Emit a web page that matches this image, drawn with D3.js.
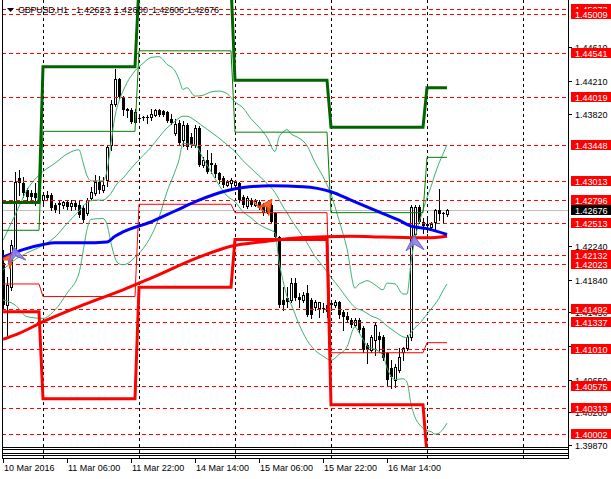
<!DOCTYPE html>
<html><head><meta charset="utf-8">
<script src="https://cdnjs.cloudflare.com/ajax/libs/d3/7.8.5/d3.min.js"></script>
<style>
body{margin:0;background:#fff}
svg{display:block}
text{font-family:"Liberation Sans",Arial,sans-serif;font-size:9px}
</style>
</head><body>
<svg id="c" width="611" height="479"></svg>
<script>
// ---------------- DATA ----------------
const symbol = "GBPUSD,H1";
const lastQuote = [1.42623, 1.42680, 1.42606, 1.42676]; // O H L C of last bar

const opens = [1.4204,1.4154,1.4175,1.4220,1.4305,1.4299,1.4291,1.4288,1.4288,1.4282,
1.4279,1.4285,1.4285,1.4273,1.4274,1.4273,1.4277,1.4272,1.4276,1.4273,
1.4270,1.4264,1.4282,1.4288,1.4301,1.4291,1.4303,1.4345,1.4394,1.4423,
1.4401,1.4388,1.4387,1.4372,1.4377,1.4378,1.4378,1.4378,1.4381,1.4387,
1.4385,1.4384,1.4376,1.4359,1.4371,1.4351,1.4369,1.4354,1.4345,1.4365,
1.4321,1.4327,1.4323,1.4321,1.4311,1.4305,1.4297,1.4299,1.4297,1.4299,
1.4283,1.4272,1.4279,1.4273,1.4277,1.4273,1.4271,1.4273,1.4264,1.4235,
1.4160,1.4162,1.4160,1.4180,1.4164,1.4160,1.4168,1.4160,1.4152,1.4150,
1.4150,1.4154,1.4156,1.4154,1.4158,1.4145,1.4141,1.4136,1.4130,1.4136,
1.4127,1.4106,1.4100,1.4112,1.4117,1.4116,1.4097,1.4079,1.4065,1.4077,
1.4098,1.4103,1.4116,1.4238,1.4271,1.4253,1.4250,1.4247,1.4253,1.4267,
1.4264,1.42623];
const highs = [1.4220,1.4187,1.4232,1.4313,1.4315,1.4307,1.4294,1.4291,1.4299,1.4294,
1.4289,1.4290,1.4288,1.4276,1.4279,1.4278,1.4279,1.4279,1.4278,1.4279,
1.4273,1.4282,1.4295,1.4309,1.4308,1.4307,1.4345,1.4398,1.4435,1.4425,
1.4403,1.4389,1.4389,1.4388,1.4379,1.4379,1.4381,1.4388,1.4388,1.4388,
1.4387,1.4385,1.4382,1.4376,1.4375,1.4373,1.4371,1.4359,1.4369,1.4367,
1.4330,1.4339,1.4335,1.4323,1.4313,1.4308,1.4303,1.4305,1.4303,1.4301,
1.4285,1.4284,1.4282,1.4280,1.4279,1.4276,1.4272,1.4276,1.4265,1.4236,
1.4175,1.4175,1.4186,1.4186,1.4168,1.4170,1.4178,1.4162,1.4160,1.4158,
1.4156,1.4156,1.4160,1.4160,1.4159,1.4148,1.4145,1.4139,1.4139,1.4139,
1.4129,1.4109,1.4118,1.4134,1.4122,1.4118,1.4098,1.4088,1.4083,1.4103,
1.4104,1.4118,1.4273,1.4273,1.4273,1.4258,1.4258,1.4253,1.4268,1.4292,
1.4265,1.42680];
const lows = [1.4150,1.4118,1.4172,1.4214,1.4285,1.4283,1.4279,1.4279,1.4273,1.4279,
1.4276,1.4279,1.4267,1.4265,1.4264,1.4270,1.4268,1.4267,1.4268,1.4259,
1.4253,1.4261,1.4279,1.4285,1.4288,1.4289,1.4296,1.4339,1.4391,1.4400,
1.4381,1.4378,1.4371,1.4371,1.4372,1.4375,1.4371,1.4375,1.4379,1.4379,
1.4379,1.4372,1.4370,1.4357,1.4345,1.4344,1.4340,1.4342,1.4342,1.4320,
1.4319,1.4311,1.4311,1.4307,1.4299,1.4295,1.4296,1.4295,1.4296,1.4277,
1.4271,1.4270,1.4272,1.4272,1.4268,1.4261,1.4264,1.4252,1.4234,1.4152,
1.4148,1.4152,1.4158,1.4160,1.4152,1.4158,1.4141,1.4139,1.4148,1.4140,
1.4146,1.4140,1.4148,1.4152,1.4139,1.4124,1.4134,1.4128,1.4129,1.4122,
1.4098,1.4085,1.4098,1.4094,1.4098,1.4088,1.4059,1.4055,1.4056,1.4074,
1.4088,1.4100,1.4112,1.4235,1.4252,1.4240,1.4241,1.4246,1.4243,1.4255,
1.4253,1.42606];
const closes = [1.4154,1.4178,1.4226,1.4301,1.4299,1.4288,1.4283,1.4283,1.4282,1.4289,
1.4285,1.4282,1.4270,1.4267,1.4276,1.4277,1.4271,1.4276,1.4271,1.4261,
1.4255,1.4279,1.4289,1.4301,1.4291,1.4297,1.4342,1.4394,1.4423,1.4402,
1.4387,1.4385,1.4372,1.4384,1.4376,1.4377,1.4377,1.4382,1.4387,1.4381,
1.4381,1.4373,1.4371,1.4370,1.4347,1.4369,1.4342,1.4345,1.4365,1.4321,
1.4327,1.4313,1.4321,1.4310,1.4303,1.4297,1.4301,1.4303,1.4301,1.4279,
1.4273,1.4282,1.4273,1.4278,1.4270,1.4264,1.4265,1.4253,1.4235,1.4154,
1.4154,1.4158,1.4180,1.4162,1.4160,1.4166,1.4142,1.4142,1.4158,1.4158,
1.4149,1.4146,1.4154,1.4158,1.4142,1.4140,1.4136,1.4130,1.4136,1.4124,
1.4100,1.4100,1.4116,1.4130,1.4112,1.4091,1.4065,1.4068,1.4080,1.4092,
1.4103,1.4116,1.4271,1.4271,1.4253,1.4248,1.4248,1.4250,1.4267,1.4262,
1.4262,1.42676];

const dateLabels = ["10 Mar 2016","11 Mar 06:00","11 Mar 22:00","14 Mar 14:00","15 Mar 06:00","15 Mar 22:00","16 Mar 14:00"];
const dateLabelBars = [0,16,32,48,64,80,96];
const dayGridBars = [10,34,58,82,106,130];
// price-scale ticks (those fully hidden behind level labels are not written)
const priceTicks = [1.39870,1.40260,1.40650,1.41050,1.41450,1.41840,1.42240,1.43820,1.44210,1.44610];
const levels = [1.45073,1.45009,1.44541,1.44019,1.43448,1.43013,1.42796,1.42513,1.42132,1.42023,1.41492,1.41337,1.41010,1.40575,1.40313,1.40002];

// daily step levels (one value per day, days start at these bars)
const dayStarts = [0,10,34,58,82,106];
const dayHighThick = [1.4276,1.4438,1.4536,1.4422,1.4366,1.4413];
const dayHighThin  = [1.4243,1.4361,1.4457,1.4360,1.4264,1.4330];
const dayLowThick  = [1.4146,1.4042,1.4175,1.4232,1.4035,1.3975];
const dayLowThin   = [1.4179,1.4164,1.4274,1.4264,1.4097,1.4109];

// moving averages (read at bars)
const maBlueBars = [0,5,10,13,20,26,28,30,37,43,49,55,60,67,75,82,87,94,99,102,106,111];
const maBlueVals = [1.4211,1.4220,1.4226,1.4228,1.4228,1.4229,1.4236,1.4241,1.4253,1.4266,1.4279,1.4289,1.4294,1.4296,1.4295,1.4289,1.4279,1.4265,1.4255,1.4248,1.4245,1.4238];
const maRedBars = [0,4,10,20,30,37,49,57,66,74,87,95,106,111];
const maRedVals = [1.4113,1.4120,1.4134,1.4154,1.4172,1.4186,1.4211,1.4224,1.4230,1.4234,1.4236,1.4235,1.4234,1.4236];

// Bollinger bands (read at bars)
const bbEdgeBars = [0,3,6,10,13,16,19,20,21,22,25,26,27,28,29,30,31,33,35,37,39,41,43,44,45,46,48,50,52,54,56,58,60,62,64,66,68,69,70,71,72,74,76,78,80,82,84,86,88,89,90,91,93,95,96,98,100,101,102,103,104,105,106,107,108,109,110,111];
const bbUpperVals = [1.4231,1.4261,1.4291,1.4313,1.4323,1.4334,1.4339,1.4324,1.4308,1.4302,1.4302,1.4314,1.4347,1.4379,1.4397,1.4409,1.4419,1.4433,1.4442,1.4449,1.4450,1.4441,1.4433,1.4423,1.4411,1.4413,1.4403,1.4404,1.4408,1.4409,1.4406,1.4396,1.4389,1.4376,1.4366,1.4354,1.4337,1.4354,1.4360,1.4363,1.4358,1.4353,1.4344,1.4324,1.4307,1.4286,1.4255,1.4221,1.4174,1.4179,1.4181,1.4183,1.4178,1.4172,1.4180,1.4179,1.4167,1.4167,1.4205,1.4233,1.4252,1.4267,1.4282,1.4295,1.4310,1.4323,1.4334,1.4345];
const bbLowerVals = [1.4160,1.4154,1.4140,1.4138,1.4148,1.4168,1.4192,1.4217,1.4244,1.4256,1.4257,1.4250,1.4228,1.4210,1.4203,1.4202,1.4203,1.4211,1.4221,1.4236,1.4258,1.4289,1.4313,1.4327,1.4347,1.4346,1.4345,1.4329,1.4313,1.4297,1.4284,1.4277,1.4265,1.4258,1.4250,1.4245,1.4240,1.4206,1.4183,1.4164,1.4155,1.4131,1.4112,1.4100,1.4093,1.4088,1.4095,1.4104,1.4128,1.4121,1.4113,1.4105,1.4101,1.4094,1.4079,1.4065,1.4066,1.4062,1.4036,1.4020,1.4012,1.4007,1.4004,1.4003,1.4000,1.4001,1.4006,1.4013];
const bbMiddleBars = [0,3,6,10,13,16,19,21,23,25,26,27,28,29,30,31,33,35,37,39,41,43,45,46,48,50,52,54,56,58,60,62,64,66,68,69,70,71,72,74,76,78,80,82,84,86,88,90,92,94,96,98,100,101,102,103,104,105,106,107,108,109,110,111];
const bbMiddleVals = [1.4196,1.4208,1.4216,1.4225,1.4235,1.4251,1.4266,1.4276,1.4279,1.4279,1.4282,1.4287,1.4295,1.4301,1.4305,1.4311,1.4322,1.4332,1.4342,1.4354,1.4365,1.4373,1.4379,1.4379,1.4374,1.4367,1.4360,1.4353,1.4345,1.4337,1.4326,1.4317,1.4308,1.4299,1.4288,1.4280,1.4271,1.4264,1.4256,1.4242,1.4228,1.4212,1.4200,1.4187,1.4175,1.4162,1.4151,1.4147,1.4141,1.4137,1.4129,1.4122,1.4116,1.4115,1.4121,1.4127,1.4131,1.4137,1.4143,1.4149,1.4155,1.4162,1.4171,1.4179];

// arrowed objects: tail -> tip in (bar, price)
const arrowKinds = ["orange","slate","slate","orange"];
const arrowTailBar = [0.0, 3.4, 103.0, 64.8];
const arrowTailPrice = [1.4200, 1.4207, 1.4219, 1.4264];
const arrowTipBar = [2.75, 2.75, 102.75, 67.25];
const arrowTipPrice = [1.4216, 1.4223, 1.4237, 1.4280];
const orangeLineBars = [62.5, 65.25];
const orangeLinePrices = [1.4278, 1.4265];

// ---------------- SCALES ----------------
const W = 611, H = 479;
const plotLeft = 2, plotRight = 568, plotBottom = 447;
const x = d3.scaleLinear().domain([0, 111]).range([3, 447]);
const y = d3.scaleLinear().domain([1.39846, 1.45176]).range([plotBottom, 0]);
const px = i => Math.round(x(i));
const py = v => Math.round(y(v));

const svg = d3.select("#c");
svg.append("rect").attr("width", W).attr("height", H).attr("fill", "#fff");
svg.append("defs").append("clipPath").attr("id", "plot")
  .append("rect").attr("x", plotLeft + 1).attr("y", 0).attr("width", plotRight - plotLeft - 1).attr("height", plotBottom);

// grid
svg.append("g").selectAll("line").data(dayGridBars).join("line")
  .attr("x1", d => px(d) + 0.5).attr("x2", d => px(d) + 0.5)
  .attr("y1", 0).attr("y2", 458)
  .attr("stroke", "#000").attr("stroke-width", 1).attr("stroke-dasharray", "3,3")
  .attr("shape-rendering", "crispEdges");

const plot = svg.append("g").attr("clip-path", "url(#plot)");

// bid line
plot.append("line").attr("x1", plotLeft).attr("x2", plotRight)
  .attr("y1", py(lastQuote[3]) + 0.5).attr("y2", py(lastQuote[3]) + 0.5)
  .attr("stroke", "#c0c0c0").attr("shape-rendering", "crispEdges");

// candles
const bars = d3.range(opens.length);
const cg = plot.append("g").attr("shape-rendering", "crispEdges");
cg.selectAll("line").data(bars).join("line")
  .attr("x1", i => px(i) + 0.5).attr("x2", i => px(i) + 0.5)
  .attr("y1", i => py(highs[i])).attr("y2", i => py(lows[i]) + 1)
  .attr("stroke", "#000");
cg.selectAll("rect").data(bars).join("rect")
  .each(function(i) {
    const top = Math.min(py(opens[i]), py(closes[i]));
    const h = Math.max(1, Math.abs(py(opens[i]) - py(closes[i])));
    const s = d3.select(this);
    if (closes[i] > opens[i]) {
      s.attr("x", px(i) - 0.5).attr("width", 2).attr("y", top + 0.5).attr("height", h)
       .attr("fill", "#fff").attr("stroke", "#000");
    } else {
      s.attr("x", px(i) - 1).attr("width", 3).attr("y", top).attr("height", h).attr("fill", "#000");
    }
  });

// horizontal level lines
plot.append("g").selectAll("line").data(levels).join("line")
  .attr("x1", plotLeft).attr("x2", plotRight)
  .attr("y1", d => py(d) + 0.5).attr("y2", d => py(d) + 0.5)
  .attr("stroke", "#ff0000").attr("stroke-dasharray", "4,3").attr("shape-rendering", "crispEdges");

// Bollinger bands
const knotLine = d3.line().x(d => x(d[0])).y(d => y(d[1])).curve(d3.curveMonotoneX);
const bbColor = "#3cb371";
[[bbEdgeBars, bbUpperVals], [bbMiddleBars, bbMiddleVals], [bbEdgeBars, bbLowerVals]].forEach(([b, v]) => {
  plot.append("path").attr("d", knotLine(b.map((bi, k) => [bi, v[k]])))
    .attr("fill", "none").attr("stroke", bbColor).attr("stroke-width", 1);
});

// daily step lines
const stepLine = d3.line().x(d => x(d[0])).y(d => y(d[1]));
const perBar = lv => bars.map(i => [i, lv[d3.bisectRight(dayStarts, i) - 1]]);
plot.append("path").attr("d", stepLine(perBar(dayHighThin))).attr("fill", "none").attr("stroke", "#008000").attr("stroke-width", 1);
plot.append("path").attr("d", stepLine(perBar(dayLowThin))).attr("fill", "none").attr("stroke", "#ff0000").attr("stroke-width", 1);
plot.append("path").attr("d", stepLine(perBar(dayHighThick))).attr("fill", "none").attr("stroke", "#006400").attr("stroke-width", 3);
plot.append("path").attr("d", stepLine(perBar(dayLowThick))).attr("fill", "none").attr("stroke", "#ff0000").attr("stroke-width", 3);

// moving averages
const maLine = d3.line().x(d => x(d[0])).y(d => y(d[1])).curve(d3.curveMonotoneX);
plot.append("path").attr("d", maLine(maRedBars.map((b, k) => [b, maRedVals[k]])))
  .attr("fill", "none").attr("stroke", "#ff0000").attr("stroke-width", 3);
plot.append("path").attr("d", maLine(maBlueBars.map((b, k) => [b, maBlueVals[k]])))
  .attr("fill", "none").attr("stroke", "#0000ff").attr("stroke-width", 3);

// arrowed objects
plot.append("line")
  .attr("x1", x(orangeLineBars[0])).attr("y1", y(orangeLinePrices[0]))
  .attr("x2", x(orangeLineBars[1])).attr("y2", y(orangeLinePrices[1]))
  .attr("stroke", "#ff5a10").attr("stroke-width", 1.5);
const arrowStyle = {orange: {fill: "#ff5a10", stroke: "#ff4000", L: 15, Wd: 7},
                    slate: {fill: "#8f82e8", stroke: "#6a5acd", L: 15, Wd: 9}};
arrowKinds.forEach((k, j) => {
  const st = arrowStyle[k];
  const tx = x(arrowTipBar[j]), ty = y(arrowTipPrice[j]);
  const bx = x(arrowTailBar[j]), by = y(arrowTailPrice[j]);
  let ux = tx - bx, uy = ty - by; const len = Math.hypot(ux, uy) || 1; ux /= len; uy /= len;
  const nx = -uy, ny = ux;
  const pts = [[tx, ty],
    [tx - st.L * ux + st.Wd * nx, ty - st.L * uy + st.Wd * ny],
    [tx - 0.6 * st.L * ux, ty - 0.6 * st.L * uy],
    [tx - st.L * ux - st.Wd * nx, ty - st.L * uy - st.Wd * ny]];
  plot.append("polygon").attr("points", pts.map(p => p.join(",")).join(" "))
    .attr("fill", st.fill).attr("fill-opacity", 0.9).attr("stroke", st.stroke).attr("stroke-width", 1);
});

// frame & sub-windows
const frame = svg.append("g").attr("stroke", "#000").attr("shape-rendering", "crispEdges");
frame.append("line").attr("x1", plotLeft + 0.5).attr("x2", plotLeft + 0.5).attr("y1", 0).attr("y2", 459);
frame.append("line").attr("x1", plotRight + 0.5).attr("x2", plotRight + 0.5).attr("y1", 0).attr("y2", 459);
[447, 449, 453, 455, 458].forEach(r => {
  frame.append("line").attr("x1", plotLeft).attr("x2", plotRight + 1).attr("y1", r + 0.5).attr("y2", r + 0.5);
});

// price axis
const ax = svg.append("g");
ax.selectAll("line").data(priceTicks).join("line")
  .attr("x1", plotRight).attr("x2", plotRight + 4)
  .attr("y1", d => py(d) + 0.5).attr("y2", d => py(d) + 0.5)
  .attr("stroke", "#000").attr("shape-rendering", "crispEdges");
ax.selectAll("text").data(priceTicks).join("text")
  .attr("x", 575).attr("y", d => py(d) + 3.5).text(d => d.toFixed(5)).attr("fill", "#000");

// level labels
const lg = svg.append("g");
levels.forEach(v => {
  const yy = py(v);
  lg.append("rect").attr("x", 571).attr("y", yy - 5).attr("width", 40).attr("height", 10).attr("fill", "#ff0000");
  lg.append("text").attr("x", 575).attr("y", yy + 3.5).attr("fill", "#fff").text(v.toFixed(5));
});
const by0 = py(lastQuote[3]);
lg.append("rect").attr("x", 571).attr("y", by0 - 5).attr("width", 40).attr("height", 10).attr("fill", "#000");
lg.append("text").attr("x", 575).attr("y", by0 + 3.5).attr("fill", "#fff").text(lastQuote[3].toFixed(5));

// time axis
const tx = svg.append("g");
tx.selectAll("line").data(dateLabelBars).join("line")
  .attr("x1", d => px(d) + 0.5).attr("x2", d => px(d) + 0.5).attr("y1", 459).attr("y2", 463)
  .attr("stroke", "#000").attr("shape-rendering", "crispEdges");
tx.selectAll("text").data(dateLabelBars).join("text")
  .attr("x", d => px(d) + 1).attr("y", 471).attr("fill", "#000").text((d, k) => dateLabels[k]);

// title
svg.append("path").attr("d", "M7,8 L14,8 L10.5,12 Z").attr("fill", "#000");
const titleParts = [symbol].concat(lastQuote.map(v => v.toFixed(5)));
const titleX = [18, 76, 114, 152, 187];
const titleW = [50, 34, 34, 32, 32];
svg.append("g").selectAll("text").data(titleParts).join("text")
  .attr("x", (d, k) => titleX[k]).attr("y", 13).attr("fill", "#000")
  .attr("textLength", (d, k) => titleW[k]).attr("lengthAdjust", "spacing")
  .text(d => d);
</script>
</body></html>
